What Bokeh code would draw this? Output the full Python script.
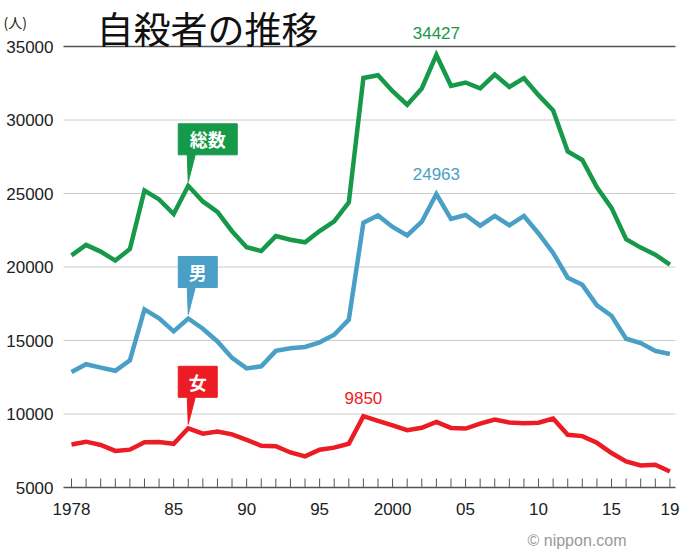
from bokeh.plotting import figure
from bokeh.models import Range1d, Label
from bokeh.core.properties import value
from bokeh.embed import file_html
from bokeh.resources import INLINE

# Suicides in Japan by year (National Police Agency figures)
YEARS = list(range(1978, 2020))
TOTAL = [20788, 21503, 21048, 20434, 21228, 25202, 24596, 23599, 25524, 24460,
         23742, 22436, 21346, 21084, 22104, 21851, 21679, 22445, 23104, 24391,
         32863, 33048, 31957, 31042, 32143, 34427, 32325, 32552, 32155, 33093,
         32249, 32845, 31690, 30651, 27858, 27283, 25427, 24025, 21897, 21321,
         20840, 20169]
MALE = [12859, 13386, 13155, 12942, 13654, 17116, 16508, 15624, 16497, 15802,
        14934, 13818, 13102, 13242, 14296, 14468, 14560, 14874, 15393, 16416,
        23013, 23512, 22727, 22144, 23080, 24963, 23272, 23540, 22813, 23478,
        22831, 23472, 22283, 20955, 19273, 18787, 17386, 16681, 15121, 14826,
        14290, 14078]
FEMALE = [7929, 8117, 7893, 7492, 7574, 8086, 8088, 7975, 9027, 8658,
          8808, 8618, 8244, 7842, 7808, 7383, 7119, 7571, 7711, 7975,
          9850, 9536, 9230, 8898, 9063, 9464, 9053, 9012, 9342, 9615,
          9418, 9373, 9407, 9696, 8585, 8496, 8041, 7344, 6776, 6495,
          6550, 6091]

SERIES_NAMES = ["総数", "男", "女"]
TAG_YEAR = 1986
PEAKS = [(2003, 34427), (2003, 24963), (1998, 9850)]

XTICKS = [1978, 1985, 1990, 1995, 2000, 2005, 2010, 2015, 2019]
XLABELS = ["1978", "85", "90", "95", "2000", "05", "10", "15", "19"]
YTICKS = [5000, 10000, 15000, 20000, 25000, 30000, 35000]
YLABELS = ["5000", "10000", "15000", "20000", "25000", "30000", "35000"]

GREEN = "#17994a"
BLUE = "#4a9fc6"
RED = "#ec1c24"
AXIS = "#555555"
GRID = "#cccccc"
INK = "#222222"

W, H = 680, 551
PX_PER_YEAR = 14.595
PX_PER_UNIT = 0.0147
UX = 1 / PX_PER_YEAR      # data units per pixel
UY = 1 / PX_PER_UNIT
X0 = YEARS[0] - 71 * UX
X1 = X0 + W * UX
Y1 = YTICKS[-1] + 46 * UY
Y0 = Y1 - H * UY

def xpx(px):
    return X0 + px * UX

def ypx(py):
    return Y1 - py * UY

PLOT_L, PLOT_R = xpx(63), xpx(675)   # horizontal extent of the plotting area

p = figure(width=W, height=H, output_backend="svg", toolbar_location=None,
           x_range=Range1d(X0, X1), y_range=Range1d(Y0, Y1),
           x_axis_location=None, y_axis_location=None,
           min_border=0, min_border_left=0, min_border_right=0,
           min_border_top=0, min_border_bottom=0)
p.outline_line_color = None
p.background_fill_color = "white"
p.border_fill_color = "white"
p.xgrid.visible = False
p.ygrid.visible = False

# horizontal rules: light grid inside, dark base and top lines
inner = YTICKS[1:-1]
p.segment(x0=[PLOT_L] * len(inner), y0=inner, x1=[PLOT_R] * len(inner), y1=inner,
          line_color=GRID, line_width=1)
edge = [YTICKS[0], YTICKS[-1]]
p.segment(x0=[PLOT_L] * 2, y0=edge, x1=[PLOT_R] * 2, y1=edge,
          line_color=AXIS, line_width=1.5)

# yearly tick marks rising from the base line
p.segment(x0=YEARS, y0=[YTICKS[0]] * len(YEARS), x1=YEARS,
          y1=[YTICKS[0] + 9 * UY] * len(YEARS), line_color=AXIS, line_width=1)

# tick labels
p.text(x=XTICKS, y=[YTICKS[0]] * len(XTICKS), text=XLABELS, y_offset=21,
       text_align="center", text_baseline="middle",
       text_font=value("Liberation Sans"), text_font_size="17px", text_color=INK)
p.text(x=[xpx(53)] * len(YTICKS), y=YTICKS, text=YLABELS,
       text_align="right", text_baseline="middle",
       text_font=value("Liberation Sans"), text_font_size="17px", text_color=INK)

# series lines
for vals, col in [(TOTAL, GREEN), (MALE, BLUE), (FEMALE, RED)]:
    p.line(YEARS, vals, line_color=col, line_width=4.5, line_join="miter")

# callout tags pointing at the 1986 values
i86 = YEARS.index(TAG_YEAR)
for name, vals, col, wpx in [(SERIES_NAMES[0], TOTAL, GREEN, 59),
                             (SERIES_NAMES[1], MALE, BLUE, 39),
                             (SERIES_NAMES[2], FEMALE, RED, 39)]:
    v = vals[i86]
    L = TAG_YEAR - 10 * UX
    R = TAG_YEAR + (wpx - 10) * UX
    T = v + 62 * UY
    B = v + 31 * UY
    tip = v + 4 * UY
    xs = [L, R, R, TAG_YEAR + 7 * UX, TAG_YEAR, TAG_YEAR - 1 * UX, L]
    ys = [T, T, B, B, tip, B, B]
    p.patch(xs, ys, fill_color=col, line_color=col, line_width=1)
    p.text(x=[(L + R) / 2], y=[(T + B) / 2], text=[name],
           text_align="center", text_baseline="middle",
           text_font=value("Noto Sans CJK JP"), text_font_style="bold",
           text_font_size="18px", text_color="white")

# peak value labels
for (yr, pv), col, off in zip(PEAKS, [GREEN, BLUE, RED], [-22, -20, -18]):
    p.text(x=[yr], y=[pv], text=[str(pv)], text_align="center",
           text_baseline="middle", y_offset=off,
           text_font=value("Liberation Sans"), text_font_size="17px",
           text_color=col)

# title, unit and credit
p.add_layout(Label(x=xpx(96), y=ypx(27), text="自殺者の推移", text_align="left",
                   text_baseline="middle", text_font="Noto Sans CJK JP",
                   text_font_size="37px", text_color="#111111"))
p.add_layout(Label(x=xpx(3), y=ypx(21), text="(人)", text_align="left",
                   text_baseline="middle", text_font="Noto Sans CJK JP",
                   text_font_size="14px", text_color=INK))
p.add_layout(Label(x=xpx(527), y=ypx(540), text="© nippon.com", text_align="left",
                   text_baseline="middle", text_font="Liberation Sans",
                   text_font_size="16px", text_color="#999999"))

open("out.html", "w").write(file_html(p, INLINE))
